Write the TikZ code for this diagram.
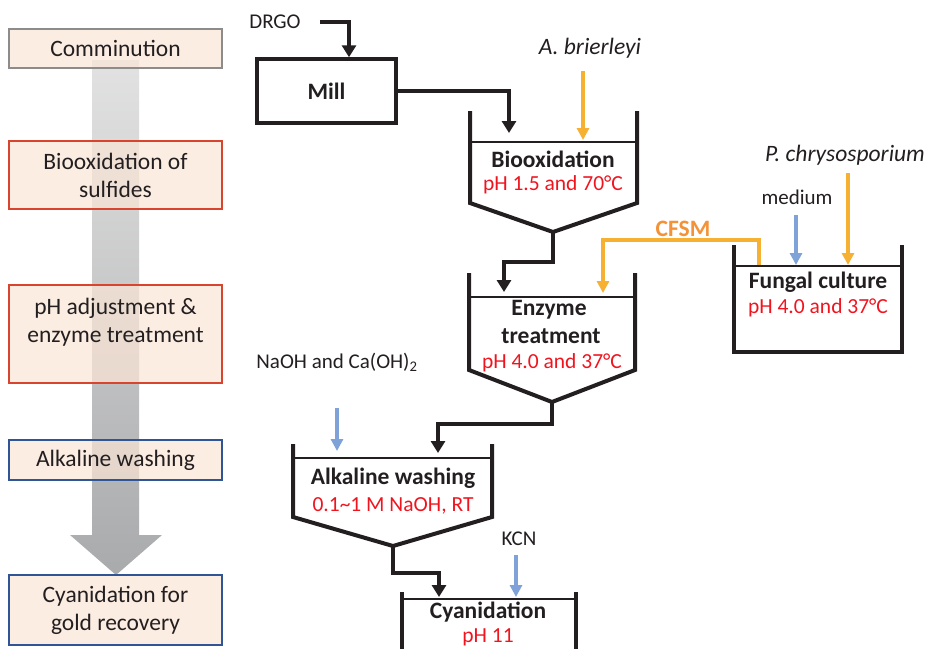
\documentclass[tikz,border=0pt]{standalone}
\usepackage{fontspec}
\setmainfont{Carlito}
\usetikzlibrary{arrows.meta,calc}
\definecolor{peach}{HTML}{FBE5D6}
\definecolor{bgray}{HTML}{8C8C8C}
\definecolor{bred}{HTML}{D9442F}
\definecolor{bblue}{HTML}{2F5597}
\definecolor{tred}{HTML}{F0141E}
\definecolor{gold}{HTML}{F6B132}
\definecolor{cfsmc}{HTML}{F39237}
\definecolor{lblue}{HTML}{7FA2D8}
\definecolor{ink}{HTML}{231F20}
\definecolor{sgtop}{HTML}{E2E2E2}
\definecolor{sgbot}{HTML}{A9AAAC}
\tikzset{
  big/.style={font=\fontsize{23.5}{28}\selectfont},
  small/.style={font=\fontsize{21}{25}\selectfont},
  stage/.style={draw, line width=2.8pt, fill=peach, fill opacity=0.7, text opacity=1,
    minimum width=213pt, align=center, inner sep=0pt, text=ink, big},
  vessel/.style={draw=ink, line width=4pt, line join=miter},
  liquid/.style={draw=ink, line width=1.6pt},
  blk/.style={draw=ink, line width=4pt, -{Triangle[width=14pt,length=12pt]}},
  goldarrow/.style={draw=gold, line width=3.8pt, -{Triangle[width=12pt,length=12pt]}},
  bluearrow/.style={draw=lblue, line width=3.8pt, -{Triangle[width=12pt,length=12pt]}},
  vtitle/.style={big, font=\fontsize{23.5}{28}\selectfont\bfseries, text=ink, inner sep=0pt},
  vcond/.style={small, font=\fontsize{21.5}{25}\selectfont, text=tred, inner sep=0pt},
  lbl/.style={small, text=ink, inner sep=0pt},
}
\begin{document}
\begin{tikzpicture}[x=1pt,y=-1pt]
\useasboundingbox (0,0) rectangle (928,648);
\clip (0,0) rectangle (928,648);

% big process arrow
\shade[top color=sgtop, bottom color=sgbot]
  (92,60) -- (139,60) -- (139,535) -- (162,535) -- (116,575) -- (70,535) -- (92,535) -- cycle;

% stage boxes
\node[stage, draw=bgray, minimum height=39pt] (s1) at (115.5,48.5) {Comminution};
\node[stage, draw=bred, minimum height=68pt] (s2) at (115.5,175) {Biooxidation of\\sulfides};
\node[stage, draw=bred, minimum height=98pt] (s3) at (115.5,334) {pH adjustment \&\\enzyme treatment\\~};
\node[stage, draw=bblue, minimum height=40pt] (s4) at (115.5,460) {Alkaline washing};
\node[stage, draw=bblue, minimum height=70pt] (s5) at (115.5,610) {Cyanidation for\\gold recovery};

% DRGO and mill
\node[lbl] (drgo) at (275,22) {DRGO};
\node[draw=ink, line width=3.5pt, minimum width=139pt, minimum height=64pt, vtitle] (mill) at (326.5,91) {Mill};
\draw[blk] ([xshift=19pt]drgo.east) -| ([xshift=22.5pt]mill.north);

% Biooxidation vessel
\coordinate (bioTL) at (470,111);
\coordinate (bioTR) at (637,111);
\coordinate (bioout) at (553,232);
\draw[vessel] (bioTL) -- (470,203) -- (bioout) -- (637,203) -- (bioTR);
\draw[liquid] (470,142) -- (637,142);
\coordinate (bioin) at (509,133);
\coordinate (biogold) at (583,140);
\node[vtitle] (biot) at (553,159) {Biooxidation};
\node[vcond] (bioc) at (553,185) {pH 1.5 and 70°C};
\draw[blk] (mill.east) -| (bioin);

\node[big, font=\fontsize{23.5}{28}\selectfont\itshape, text=ink, inner sep=0pt] (abr) at (590,48) {A. brierleyi};
\coordinate (abrs) at (583,71);
\draw[goldarrow] (abrs) -- (biogold);

% Enzyme vessel
\coordinate (enzTL) at (469,273);
\coordinate (enzTR) at (635,273);
\coordinate (enzout) at (552,402);
\draw[vessel] (enzTL) -- (469,370) -- (enzout) -- (635,370) -- (enzTR);
\draw[liquid] (469,297) -- (635,297);
\coordinate (enzin) at (504,292);
\coordinate (enzgold) at (603,293);
\node[vtitle] (enzt1) at (549,310) {Enzyme};
\node[vtitle] (enzt2) at (551,336) {treatment};
\node[vcond] (enzc) at (552,363) {pH 4.0 and 37°C};
\draw[blk] (bioout) -- ++(0,30) -| (enzin);

% Fungal culture
\coordinate (funTL) at (734,245);
\coordinate (funTR) at (902,245);
\draw[vessel] (funTL) -- (734,352) -- (902,352) -- (funTR);
\draw[liquid] (734,266) -- (902,266);
\node[vtitle] (funt) at (818,282) {Fungal culture};
\node[vcond] (func) at (818,308) {pH 4.0 and 37°C};
\coordinate (funcf) at (759,265);
\coordinate (funmed) at (796,265);
\coordinate (fungold) at (848,265);
\node[lbl] (med) at (797,197) {medium};
\coordinate (meds) at (796,215);
\draw[bluearrow] (meds) -- (funmed);
\node[big, font=\fontsize{23.5}{28}\selectfont\itshape, text=ink, inner sep=0pt] (pch) at (845,155) {P. chrysosporium};
\coordinate (pchs) at (848,173);
\draw[goldarrow] (pchs) -- (fungold);
\draw[goldarrow] (funcf) -- ++(0,-25) -| (enzgold);
\node[font=\fontsize{23.5}{28}\selectfont\bfseries, text=cfsmc, inner sep=0pt] (cfsm) at (683,229) {CFSM};

% Alkaline washing
\coordinate (alkTL) at (293,444);
\coordinate (alkTR) at (492,444);
\coordinate (alkout) at (393,546);
\draw[vessel] (alkTL) -- (293,517) -- (alkout) -- (492,517) -- (alkTR);
\draw[liquid] (293,458) -- (492,458);
\coordinate (alkin) at (438,453);
\coordinate (alkblue) at (337,451);
\node[vtitle] (alkt) at (393,478) {Alkaline washing};
\node[vcond] (alkc) at (393,506) {0.1\char"007E 1 M NaOH, RT};
\draw[blk] (enzout) -- ++(0,22) -| (alkin);
\node[lbl] (naoh) at (337,362) {NaOH and Ca(OH)\textsubscript{2}};
\coordinate (naohs) at (337,408);
\draw[bluearrow] (naohs) -- (alkblue);

% Cyanidation
\coordinate (cyTL) at (402,592);
\coordinate (cyTR) at (576,592);
\draw[vessel] (cyTL) -- (402,660);
\draw[vessel] (cyTR) -- (576,660);
\draw[liquid] (402,599) -- (576,599);
\coordinate (cyin) at (439,597);
\coordinate (cyblue) at (516,597);
\node[vtitle] (cyt) at (488,612) {Cyanidation};
\node[vcond] (cyc) at (488,637) {pH 11};
\draw[blk] (alkout) -- ++(0,27) -| (cyin);
\node[lbl] (kcn) at (519,539) {KCN};
\coordinate (kcns) at (516,555);
\draw[bluearrow] (kcns) -- (cyblue);
\end{tikzpicture}
\end{document}
